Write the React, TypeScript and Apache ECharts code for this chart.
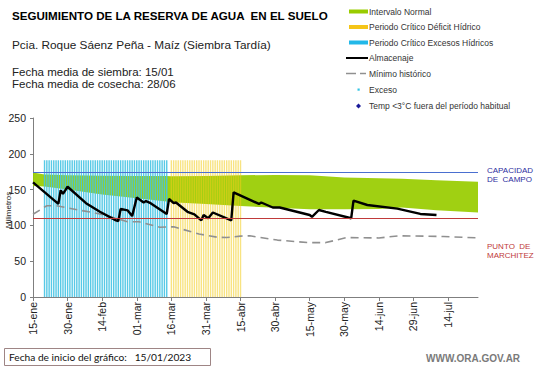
import React, { useEffect, useRef } from "react";
import * as echarts from "echarts";

const FONT = '"Liberation Sans", Arial, sans-serif';

// x axis: days since 15/01/2023
const tickLabels = ["15-ene", "30-ene", "14-feb", "01-mar", "16-mar", "31-mar", "15-abr", "30-abr", "15-may", "30-may", "14-jun", "29-jun", "14-jul"];
const tickStep = 15;
const axisDays = 193;

// reference levels (mm)
const capacidadCampo = 174;
const puntoMarchitez = 110;

// critical periods (day ranges) and their band height
const excesoPeriodo = [5, 58];
const deficitPeriodo = [60, 90];
const franjaTope = 191;

// normal interval
const bandDays = [0, 5, 15, 30, 45, 58, 60, 75, 90, 105, 120, 135, 150, 160, 175, 193];
const bandUpper = [174, 171, 170, 169.5, 169, 169, 168.5, 169, 170, 170.5, 170, 167, 166, 165, 163, 161];
const bandLower = [155, 154.5, 150, 143, 138, 133.5, 132.5, 130, 127, 124.5, 122.5, 122.5, 123, 125, 121, 118];

// historic minimum
const minDays = [0, 6, 10, 15, 29, 36, 41, 46, 55, 61, 72, 80, 84, 90, 94, 106, 119, 127, 136, 150, 159, 178, 193];
const minVals = [115.5, 127.5, 127.5, 124.5, 116, 110, 105, 105, 97.5, 98, 88, 83.5, 83, 85, 85.5, 79.5, 76, 76, 83, 82.5, 85.5, 84.5, 82.5];

// soil water storage
const almDays = [0, 11, 12, 13, 15, 23, 29, 36, 37, 38, 41, 43, 45, 48, 49, 51, 58, 59, 61, 62, 67, 70, 73, 74, 76, 78, 86, 87, 98, 99, 104, 107, 120, 121, 124, 127, 138, 139, 145, 158, 168, 175];
const almVals = [160, 130, 149, 144, 154, 131, 119, 107, 106, 123, 121, 113, 139, 132, 134, 131, 116, 137, 131, 132, 119, 115.5, 107, 114.5, 110, 118, 107, 146, 130, 132, 125, 125, 114.5, 112, 121.5, 119, 110, 134.5, 128.5, 123.5, 116, 114.5];

const legendRows = [
  { label: "Intervalo Normal", kind: "rect", color: "#99CC00" },
  { label: "Periodo Crítico Déficit Hídrico", kind: "rect", color: "#F5C518" },
  { label: "Periodo Crítico Excesos Hídricos", kind: "rect", color: "#22B8E8" },
  { label: "Almacenaje", kind: "line", color: "#000000" },
  { label: "Mínimo histórico", kind: "dash", color: "#909090" },
  { label: "Exceso", kind: "dot", color: "#33C4E4" },
  { label: "Temp <3°C fuera del período habitual", kind: "diamond", color: "#1A1A99" },
];
const legendY = [11.5, 27, 42.5, 58, 73.5, 89.5, 106];

function txt(x: number, y: number, text: string, font: string, fill: string, align = "left", rotation = 0) {
  return {
    type: "text",
    x,
    y,
    rotation,
    silent: true,
    style: { text, font, fill, textAlign: align, textVerticalAlign: "middle", align, verticalAlign: "middle" },
  };
}

export default function App() {
  const ref = useRef<HTMLDivElement>(null);
  useEffect(() => {
    const chart = echarts.init(ref.current!, null, { renderer: "svg", width: 541, height: 368 });

    const periodBars = (p: number[]) => {
      const out: number[][] = [];
      for (let d = p[0]; d <= p[1]; d++) out.push([d, franjaTope]);
      return out;
    };
    const tickValues = tickLabels.map((_, i) => i * tickStep);

    const graphics: any[] = [
      txt(12, 15, "SEGUIMIENTO DE LA RESERVA DE AGUA  EN EL SUELO", `bold 11.6px ${FONT}`, "#000"),
      txt(12, 45, "Pcia. Roque Sáenz Peña - Maíz (Siembra Tardía)", `11.8px ${FONT}`, "#222"),
      txt(12, 71.5, "Fecha media de siembra: 15/01", `11.5px ${FONT}`, "#222"),
      txt(12, 84, "Fecha media de cosecha: 28/06", `11.5px ${FONT}`, "#222"),
      txt(8, 210, "Milimetros", `8px ${FONT}`, "#222", "center", Math.PI / 2),
      txt(487, 170.5, "CAPACIDAD", `8px ${FONT}`, "#2E2EA0"),
      txt(487, 179.5, "DE  CAMPO", `8px ${FONT}`, "#2E2EA0"),
      txt(487, 246.5, "PUNTO  DE", `8px ${FONT}`, "#C03A3A"),
      txt(487, 255.5, "MARCHITEZ", `8px ${FONT}`, "#C03A3A"),
      {
        type: "rect",
        shape: { x: 4.5, y: 348.5, width: 206, height: 17 },
        style: { fill: "#fff", stroke: "#9E8585", lineWidth: 1 },
        silent: true,
      },
      txt(9, 357, "Fecha de inicio del gráfico:   15/01/2023", `10.2px Lato, ${FONT}`, "#111"),
      txt(426, 358, "WWW.ORA.GOV.AR", `bold 10px ${FONT}`, "#7A7A7A"),
    ];

    legendRows.forEach((r, i) => {
      const y = legendY[i];
      if (r.kind === "rect") {
        graphics.push({ type: "rect", shape: { x: 349, y: y - 2, width: 19, height: 4 }, style: { fill: r.color }, silent: true });
      } else if (r.kind === "line") {
        graphics.push({ type: "line", shape: { x1: 346, y1: y, x2: 368, y2: y }, style: { stroke: r.color, lineWidth: 2 }, silent: true });
      } else if (r.kind === "dash") {
        graphics.push({ type: "line", shape: { x1: 346, y1: y, x2: 356, y2: y }, style: { stroke: r.color, lineWidth: 1.5 }, silent: true });
        graphics.push({ type: "line", shape: { x1: 360, y1: y, x2: 366, y2: y }, style: { stroke: r.color, lineWidth: 1.5 }, silent: true });
      } else if (r.kind === "dot") {
        graphics.push({ type: "rect", shape: { x: 357.5, y: y - 1, width: 2.2, height: 2.2 }, style: { fill: r.color }, silent: true });
      } else {
        graphics.push({
          type: "polygon",
          shape: { points: [[358.5, y - 2.5], [361, y], [358.5, y + 2.5], [356, y]] },
          style: { fill: r.color },
          silent: true,
        });
      }
      graphics.push(txt(369, y, r.label, `8.5px ${FONT}`, "#333"));
    });

    const option: any = {
      animation: false,
      backgroundColor: "#ffffff",
      textStyle: { fontFamily: FONT },
      grid: { left: 33, right: 63, top: 118, bottom: 71, containLabel: false, outerBoundsMode: "none" },
      xAxis: {
        type: "value",
        min: 0,
        max: axisDays,
        interval: tickStep,
        splitLine: { show: false },
        axisLine: { show: true, lineStyle: { color: "#7F7F7F", width: 1 } },
        axisTick: { show: true, length: 4, customValues: tickValues, lineStyle: { color: "#7F7F7F" } },
        axisLabel: {
          rotate: 90,
          fontSize: 10.5,
          color: "#222",
          margin: 5,
          customValues: tickValues,
          formatter: (v: number) => (v % tickStep === 0 ? tickLabels[Math.round(v / tickStep)] ?? "" : ""),
        },
      },
      yAxis: {
        type: "value",
        min: 0,
        max: 250,
        interval: 50,
        splitLine: { show: false },
        axisLine: { show: true, lineStyle: { color: "#7F7F7F", width: 1 } },
        axisTick: { show: true, length: 3, lineStyle: { color: "#7F7F7F" } },
        axisLabel: { fontSize: 10.5, color: "#222", margin: 7 },
      },
      graphic: graphics,
      series: [
        {
          name: "Periodo Crítico Excesos Hídricos",
          type: "bar",
          barWidth: 1.4,
          barGap: "-100%",
          silent: true,
          itemStyle: { color: "#45C3E3", opacity: 0.9 },
          data: periodBars(excesoPeriodo),
        },
        {
          name: "Intervalo Normal",
          type: "custom",
          silent: true,
          clip: true,
          data: bandDays.map((d, i) => [d, bandLower[i], bandUpper[i]]),
          encode: { x: 0, y: [1, 2] },
          renderItem: (params: any, api: any) => {
            if (params.dataIndex !== 0) return null;
            const pts: number[][] = [];
            for (let i = 0; i < bandDays.length; i++) pts.push(api.coord([bandDays[i], bandUpper[i]]));
            for (let i = bandDays.length - 1; i >= 0; i--) pts.push(api.coord([bandDays[i], bandLower[i]]));
            return { type: "polygon", shape: { points: pts }, style: { fill: "#99CC00", stroke: "none", opacity: 0.93 } };
          },
        },
        {
          name: "Periodo Crítico Déficit Hídrico",
          type: "bar",
          barWidth: 1.4,
          barGap: "-100%",
          silent: true,
          itemStyle: { color: "#F2CC1A", opacity: 0.55 },
          data: periodBars(deficitPeriodo),
        },
        {
          name: "Mínimo histórico",
          type: "line",
          symbol: "none",
          silent: true,
          lineStyle: { color: "#909090", width: 1.6, type: [8, 5] },
          data: minDays.map((d, i) => [d, minVals[i]]),
        },
        {
          name: "Almacenaje",
          type: "line",
          symbol: "none",
          silent: true,
          lineStyle: { color: "#000000", width: 2.4 },
          data: almDays.map((d, i) => [d, almVals[i]]),
          markLine: {
            silent: true,
            symbol: "none",
            label: { show: false },
            data: [
              { yAxis: capacidadCampo, lineStyle: { color: "#4A6FD0", width: 1, type: "solid" } },
              { yAxis: puntoMarchitez, lineStyle: { color: "#C03A3A", width: 1, type: "solid" } },
            ],
          },
        },
      ],
    };
    chart.setOption(option);
    return () => chart.dispose();
  }, []);
  return (
    <div
      ref={ref}
      style={{ position: "fixed", left: 0, top: 0, width: 541, height: 368, background: "#fff" }}
    />
  );
}
